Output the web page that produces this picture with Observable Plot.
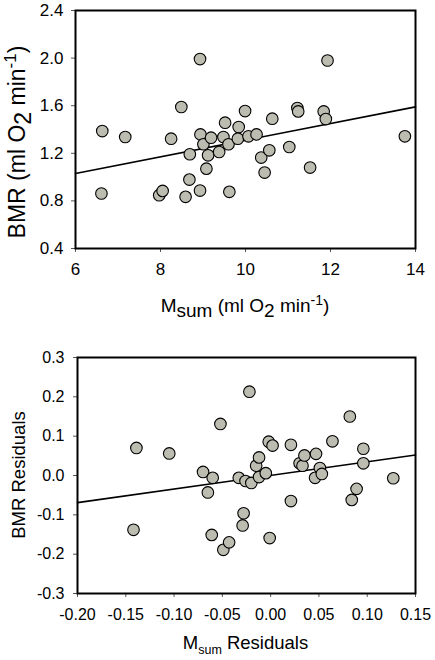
<!DOCTYPE html>
<html>
<head>
<meta charset="utf-8">
<script src="https://cdn.jsdelivr.net/npm/d3@7"></script>
<script src="https://cdn.jsdelivr.net/npm/@observablehq/plot@0.6"></script>
<style>
  html, body { margin: 0; padding: 0; background: white; }
  #chart svg { display: block; }
</style>
</head>
<body>
<div id="chart"></div>
<script>
// ---- Top panel data: Msum vs BMR ----
const msum = [6.61,6.63,7.17,7.97,8.05,8.25,8.49,8.69,8.68,8.59,8.93,8.94,8.93,9.01,9.19,9.12,9.08,9.38,9.52,9.48,9.60,9.62,9.84,9.82,9.99,10.07,10.26,10.37,10.45,10.56,10.63,11.03,11.22,11.24,11.52,11.84,11.89,11.93,13.75];
const bmr = [0.862,1.387,1.337,0.848,0.884,1.323,1.589,1.192,0.979,0.834,1.992,1.359,0.887,1.276,1.331,1.183,1.071,1.211,1.457,1.337,1.276,0.876,1.421,1.323,1.555,1.343,1.359,1.164,1.038,1.225,1.491,1.253,1.580,1.552,1.080,1.552,1.488,1.980,1.343];
const fitTopX = [6, 14];
const fitTopY = [1.03, 1.59];
const topXTicks = [6, 8, 10, 12, 14];
const topYTicks = [0.4, 0.8, 1.2, 1.6, 2.0, 2.4];

// ---- Bottom panel data: residuals ----
const msumRes = [-0.142,-0.139,-0.105,-0.070,-0.065,-0.060,-0.061,-0.052,-0.049,-0.043,-0.033,-0.028,-0.029,-0.026,-0.022,-0.020,-0.015,-0.012,-0.012,-0.005,-0.002,0.002,-0.001,0.021,0.021,0.030,0.033,0.035,0.047,0.046,0.051,0.053,0.064,0.082,0.084,0.089,0.096,0.096,0.127];
const bmrRes = [-0.138,0.070,0.056,0.009,-0.043,-0.006,-0.151,0.131,-0.189,-0.170,-0.006,-0.096,-0.127,-0.014,0.213,-0.019,0.025,0.046,-0.004,0.006,0.086,0.076,-0.159,0.078,-0.065,0.031,0.025,0.051,0.055,-0.006,0.019,0.004,0.087,0.150,-0.062,-0.034,0.068,0.031,-0.007];
const fitBotX = [-0.2, 0.15];
const fitBotY = [-0.069, 0.052];
const botXTicks = [-0.2, -0.15, -0.1, -0.05, 0, 0.05, 0.1, 0.15];
const botYTicks = [-0.3, -0.2, -0.1, 0, 0.1, 0.2, 0.3];

const FONT = "'Liberation Sans', Arial, Helvetica, sans-serif";
const DOT_FILL = "#bcbcb0";

const topData = msum.map((x, i) => ({x, y: bmr[i]}));
const topFit = fitTopX.map((x, i) => ({x, y: fitTopY[i]}));
const botData = msumRes.map((x, i) => ({x, y: bmrRes[i]}));
const botFit = fitBotX.map((x, i) => ({x, y: fitBotY[i]}));

const topPlot = Plot.plot({
  width: 435, height: 330,
  marginLeft: 75, marginRight: 20, marginTop: 10, marginBottom: 82,
  style: {fontFamily: FONT, background: "white", color: "black", overflow: "visible"},
  x: {domain: [6, 14]},
  y: {domain: [0.4, 2.4]},
  marks: [
    Plot.axisX({ticks: topXTicks, tickSize: 4, tickPadding: 10, fontSize: 17, tickFormat: d => String(d), stroke: "#555", fill: "black", label: null}),
    Plot.axisY({ticks: topYTicks, tickSize: 4, tickPadding: 8, fontSize: 17, tickFormat: d => d.toFixed(1), stroke: "#555", fill: "black", label: null}),
    Plot.line(topFit, {x: "x", y: "y", stroke: "black", strokeWidth: 1.6}),
    Plot.dot(topData, {x: "x", y: "y", r: 5.8, fill: DOT_FILL, stroke: "black", strokeWidth: 1.1}),
    Plot.frame({stroke: "black", strokeWidth: 2})
  ]
});

const botPlot = Plot.plot({
  width: 435, height: 330,
  marginLeft: 77, marginRight: 20, marginTop: 27, marginBottom: 67,
  style: {fontFamily: FONT, background: "white", color: "black", overflow: "visible"},
  x: {domain: [-0.2, 0.15]},
  y: {domain: [-0.3, 0.3]},
  marks: [
    Plot.axisX({ticks: botXTicks, tickSize: 4, tickPadding: 11, fontSize: 16, tickFormat: d => (Math.abs(d) < 1e-9 ? 0 : d).toFixed(2), stroke: "#555", fill: "black", label: null}),
    Plot.axisY({ticks: botYTicks, tickSize: 4, tickPadding: 9, fontSize: 16, tickFormat: d => (Math.abs(d) < 1e-9 ? 0 : d).toFixed(1), stroke: "#555", fill: "black", label: null}),
    Plot.line(botFit, {x: "x", y: "y", stroke: "black", strokeWidth: 1.6}),
    Plot.dot(botData, {x: "x", y: "y", r: 5.8, fill: DOT_FILL, stroke: "black", strokeWidth: 1.1}),
    Plot.frame({stroke: "black", strokeWidth: 2})
  ]
});

// ---- Axis titles with sub/superscripts ----
function addTopTitles(svg) {
  const s = d3.select(svg);
  const xt = s.append("text")
    .attr("x", 245).attr("y", 312)
    .attr("text-anchor", "middle")
    .attr("font-family", FONT).attr("font-size", 19).attr("fill", "black");
  xt.append("tspan").text("M");
  xt.append("tspan").attr("dy", 5).text("sum");
  xt.append("tspan").attr("dy", -5).text(" (ml O");
  xt.append("tspan").attr("dy", 5).text("2");
  xt.append("tspan").attr("dy", -5).text(" min");
  xt.append("tspan").attr("dy", -7).attr("font-size", 14).text("-1");
  xt.append("tspan").attr("dy", 7).text(")");

  const yt = s.append("text")
    .attr("transform", "translate(25,142) rotate(-90)")
    .attr("text-anchor", "middle")
    .attr("font-family", FONT).attr("font-size", 23).attr("fill", "black");
  yt.append("tspan").text("BMR (ml O");
  yt.append("tspan").attr("dy", 6).text("2");
  yt.append("tspan").attr("dy", -6).text(" min");
  yt.append("tspan").attr("dy", -9).attr("font-size", 17).text("-1");
  yt.append("tspan").attr("dy", 9).text(")");
}

function addBotTitles(svg) {
  const s = d3.select(svg);
  const xt = s.append("text")
    .attr("x", 245.5).attr("y", 319)
    .attr("text-anchor", "middle")
    .attr("font-family", FONT).attr("font-size", 18.5).attr("fill", "black");
  xt.append("tspan").text("M");
  xt.append("tspan").attr("dy", 5).attr("font-size", 12.5).text("sum");
  xt.append("tspan").attr("dy", -5).text(" Residuals");

  s.append("text")
    .attr("transform", "translate(25,145) rotate(-90)")
    .attr("text-anchor", "middle")
    .attr("font-family", FONT).attr("font-size", 18.5).attr("fill", "black")
    .text("BMR Residuals");
}

addTopTitles(topPlot);
addBotTitles(botPlot);

const chart = document.getElementById("chart");
chart.appendChild(topPlot);
chart.appendChild(botPlot);
</script>
</body>
</html>
